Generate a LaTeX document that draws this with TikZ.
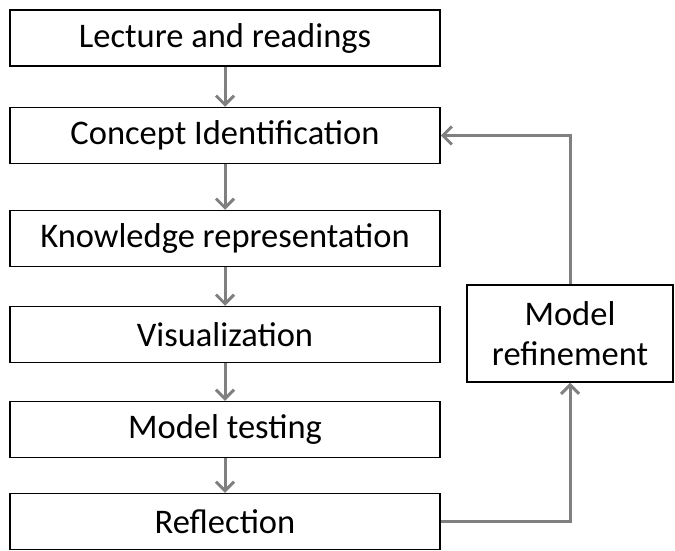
\documentclass[tikz,border=0pt]{standalone}
\usepackage{fontspec}
\setmainfont{Carlito}
\usepackage{tikz}
\usetikzlibrary{arrows.meta}
\tikzstyle{stage} = [rectangle, draw, line width=1.5pt, text centered, minimum width=430pt, minimum height=56pt, font=\fontsize{34.5}{38}\selectfont]
\tikzstyle{loopbox} = [rectangle, draw, line width=1.5pt, align=center, minimum width=206pt, minimum height=97pt, font=\fontsize{34.5}{40}\selectfont]
\tikzstyle{connector} = [line width=3pt, draw=gray, -{Straight Barb[length=9pt,width=18pt]}]

\begin{document}
\begin{tikzpicture}[node distance=96pt]
        \useasboundingbox (0,0) rectangle (675pt,-551pt);
        \node (lecture) [stage] at (225pt,-38pt) {Lecture and readings};
        \node (concept) [stage, below of = lecture, yshift = -1.5pt] {Concept Identification};
        \node (knowledge) [stage, below of = concept, yshift = -7pt] {Knowledge representation};
        \node (visual) [stage, below of = knowledge] {Visualization};
        \node (testing) [stage, below of = visual, yshift = 1pt] {Model testing};
        \node (reflection) [stage, below of = testing, yshift = 4pt] {Reflection};
        \node (refine) [loopbox, right of = visual, xshift = 249pt, yshift = 1pt] {Model\\refinement};
        \draw [connector] (lecture) -- (concept);
        \draw [connector] (concept) -- (knowledge);
        \draw [connector] (knowledge) -- (visual);
        \draw [connector] (visual) -- (testing);
        \draw [connector] (testing) -- (reflection);
        \draw [connector] (reflection.east) -| (refine.south);
        \draw [connector] (refine.north) |- (concept.east);
    \end{tikzpicture}
\end{document}
